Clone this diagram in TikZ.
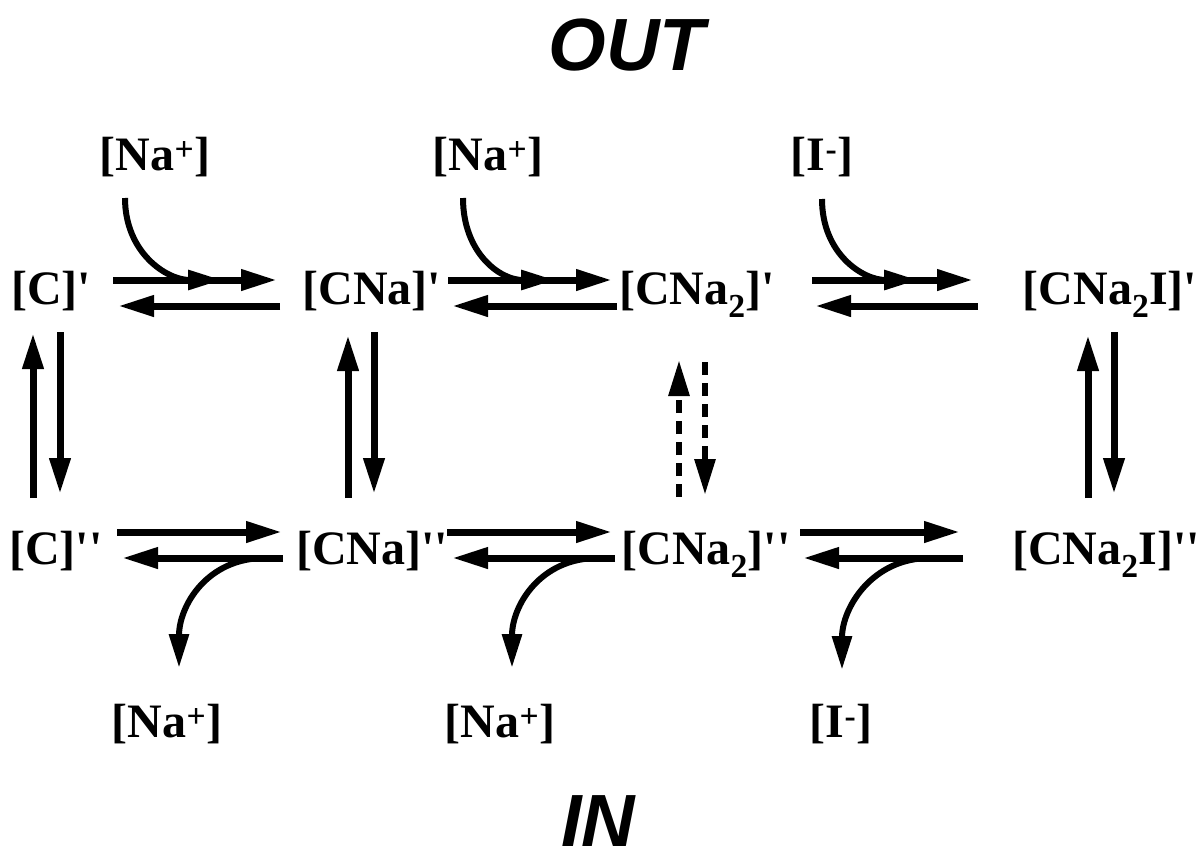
\documentclass[tikz,border=0pt]{standalone}
\usepackage{fontspec}
\newfontfamily\specfont{Liberation Serif}
\setsansfont{Liberation Sans}
\usetikzlibrary{arrows.meta}

\begin{document}
\begin{tikzpicture}[x=1pt,y=-1pt,
  spec/.style={font=\specfont\bfseries\fontsize{48}{52}\selectfont,inner sep=0pt,anchor=base},
  side/.style={font=\sffamily\bfseries\itshape\fontsize{74}{80}\selectfont,inner sep=0pt,anchor=base},
  rx/.style={line width=7pt,-{Triangle[length=36pt,width=20pt]}},
  rxd/.style={rx,line width=6pt,dash pattern=on 13pt off 8pt},
  ionflow/.style={line width=6pt,-{Triangle[length=34pt,width=19pt]}}]
  \useasboundingbox (0,0) rectangle (1202,860);
  % sides of the membrane
  \node[side] (out) at (627,70) {OUT};
  \node[side] (in) at (598,846) {IN};
  % carrier states, outside and inside
  \node[spec] (c1) at (51,304) {[C]'};
  \node[spec] (cna1) at (372,304) {[CNa]'};
  \node[spec] (cnb1) at (697,304) {[CNa\textsubscript{2}]'};
  \node[spec] (cni1) at (1110,304) {[CNa\textsubscript{2}I]'};
  \node[spec] (c2) at (56,564) {[C]''};
  \node[spec] (cna2) at (372,564) {[CNa]''};
  \node[spec] (cnb2) at (706,564) {[CNa\textsubscript{2}]''};
  \node[spec] (cni2) at (1106,564) {[CNa\textsubscript{2}I]''};
  % ions
  \node[spec] (naA) at (155,170) {[Na\textsuperscript{+}]};
  \node[spec] (naB) at (488,170) {[Na\textsuperscript{+}]};
  \node[spec] (iA) at (822,170) {[I\textsuperscript{-}]};
  \node[spec] (naC) at (167,737) {[Na\textsuperscript{+}]};
  \node[spec] (naD) at (500,737) {[Na\textsuperscript{+}]};
  \node[spec] (iB) at (841,737) {[I\textsuperscript{-}]};
  % binding on the outside
  \draw[rx] ([shift={(62,-24)}]c1.base) -- ([shift={(-95,-24)}]cna1.base);
  \draw[rx] ([shift={(-92,2)}]cna1.base) -- ([shift={(67,2)}]c1.base);
  \draw[ionflow] ([shift={(-30,28)}]naA.base) .. controls +(0,55) and +(-55,0) .. ([shift={(-150,-24)}]cna1.base);
  \draw[rx] ([shift={(76,-24)}]cna1.base) -- ([shift={(-85,-24)}]cnb1.base);
  \draw[rx] ([shift={(-80,2)}]cnb1.base) -- ([shift={(80,2)}]cna1.base);
  \draw[ionflow] ([shift={(-25,28)}]naB.base) .. controls +(0,55) and +(-55,0) .. ([shift={(-142,-24)}]cnb1.base);
  \draw[rx] ([shift={(115,-24)}]cnb1.base) -- ([shift={(-137,-24)}]cni1.base);
  \draw[rx] ([shift={(-132,2)}]cni1.base) -- ([shift={(118,2)}]cnb1.base);
  \draw[ionflow] ([shift={(0,29)}]iA.base) .. controls +(0,55) and +(-55,0) .. ([shift={(-192,-24)}]cni1.base);
  % release on the inside
  \draw[rx] ([shift={(61,-32)}]c2.base) -- ([shift={(-90,-32)}]cna2.base);
  \draw[rx] ([shift={(-89,-6)}]cna2.base) -- ([shift={(66,-6)}]c2.base);
  \draw[ionflow] ([shift={(-107,-6)}]cna2.base) .. controls +(-58,0) and +(0,-62) .. ([shift={(12,-69)}]naC.base);
  \draw[rx] ([shift={(75,-32)}]cna2.base) -- ([shift={(-94,-32)}]cnb2.base);
  \draw[rx] ([shift={(-91,-6)}]cnb2.base) -- ([shift={(80,-6)}]cna2.base);
  \draw[ionflow] ([shift={(-108,-6)}]cnb2.base) .. controls +(-58,0) and +(0,-62) .. ([shift={(12,-69)}]naD.base);
  \draw[rx] ([shift={(94,-32)}]cnb2.base) -- ([shift={(-146,-32)}]cni2.base);
  \draw[rx] ([shift={(-143,-6)}]cni2.base) -- ([shift={(97,-6)}]cnb2.base);
  \draw[ionflow] ([shift={(-176,-6)}]cni2.base) .. controls +(-58,0) and +(0,-62) .. ([shift={(1,-67)}]iB.base);
  % reorientation across the membrane
  \draw[rx] ([shift={(-23,-66)}]c2.base) -- ([shift={(-18,29)}]c1.base);
  \draw[rx] ([shift={(9,28)}]c1.base) -- ([shift={(4,-70)}]c2.base);
  \draw[rx] ([shift={(-24,-66)}]cna2.base) -- ([shift={(-24,31)}]cna1.base);
  \draw[rx] ([shift={(2,28)}]cna1.base) -- ([shift={(2,-70)}]cna2.base);
  \draw[rxd] ([shift={(-27,-67)}]cnb2.base) -- ([shift={(-18,56)}]cnb1.base);
  \draw[rxd] ([shift={(8,58)}]cnb1.base) -- ([shift={(-1,-69)}]cnb2.base);
  \draw[rx] ([shift={(-18,-66)}]cni2.base) -- ([shift={(-22,31)}]cni1.base);
  \draw[rx] ([shift={(4,28)}]cni1.base) -- ([shift={(8,-70)}]cni2.base);
\end{tikzpicture}
\end{document}
